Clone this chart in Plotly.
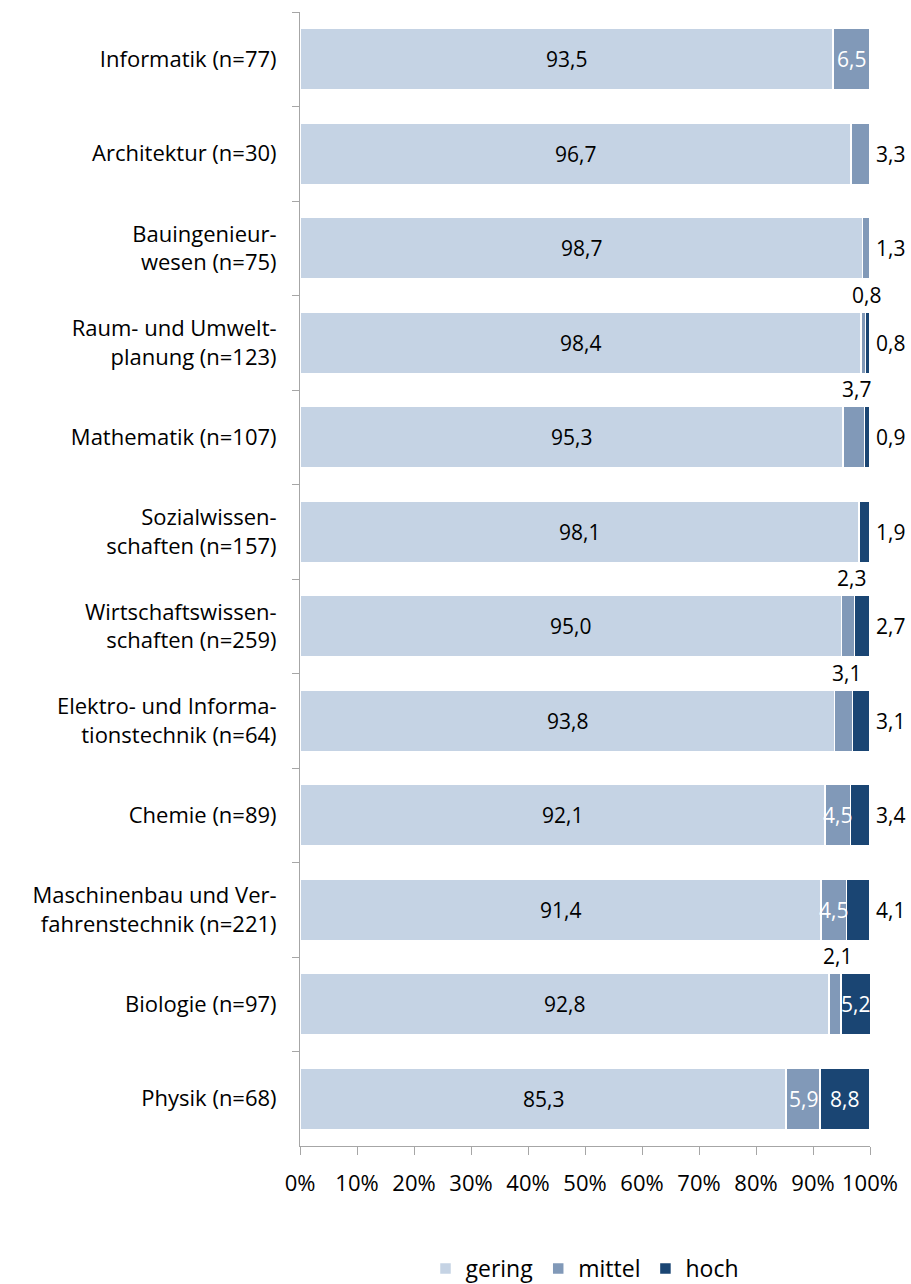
import plotly.graph_objects as go

categories = [
    "Informatik (n=77)",
    "Architektur (n=30)",
    "Bauingenieur-<br>wesen (n=75)",
    "Raum- und Umwelt-<br>planung (n=123)",
    "Mathematik (n=107)",
    "Sozialwissen-<br>schaften (n=157)",
    "Wirtschaftswissen-<br>schaften (n=259)",
    "Elektro- und Informa-<br>tionstechnik (n=64)",
    "Chemie (n=89)",
    "Maschinenbau und Ver-<br>fahrenstechnik (n=221)",
    "Biologie (n=97)",
    "Physik (n=68)",
]
gering = [93.5, 96.7, 98.7, 98.4, 95.3, 98.1, 95.0, 93.8, 92.1, 91.4, 92.8, 85.3]
mittel = [6.5, 3.3, 1.3, 0.8, 3.7, 0.0, 2.3, 3.1, 4.5, 4.5, 2.1, 5.9]
hoch = [0.0, 0.0, 0.0, 0.8, 0.9, 1.9, 2.7, 3.1, 3.4, 4.1, 5.2, 8.8]
# label placement per bar segment: in / out / above / none
mittel_pos = ["in", "out", "out", "above", "above", "none", "above", "above", "in", "in", "above", "in"]
hoch_pos = ["none", "none", "none", "out", "out", "out", "out", "out", "out", "out", "in", "in"]
x_ticks = [0, 10, 20, 30, 40, 50, 60, 70, 80, 90, 100]

colors = {"gering": "#c5d3e4", "mittel": "#8199b8", "hoch": "#1a4573"}
FONT = "Open Sans"

def fmt(v):
    return f"{v:.1f}".replace(".", ",")

fig = go.Figure()
for name, vals in [("gering", gering), ("mittel", mittel), ("hoch", hoch)]:
    fig.add_trace(go.Bar(
        name=name, y=categories, x=vals, orientation="h",
        marker=dict(color=colors[name], line=dict(color="white", width=1.5)),
        width=0.65, hoverinfo="skip",
    ))

ann = []
for i, c in enumerate(categories):
    g, m, h = gering[i], mittel[i], hoch[i]
    ann.append(dict(x=g / 2, y=c, text=fmt(g), showarrow=False,
                    font=dict(color="black", size=21, family=FONT)))
    mp = mittel_pos[i]
    if mp == "in":
        ann.append(dict(x=g + m / 2, y=c, text=fmt(m), showarrow=False,
                        font=dict(color="white", size=21, family=FONT)))
    elif mp == "out":
        ann.append(dict(x=100, y=c, text=fmt(m), showarrow=False, xanchor="left", xshift=4,
                        font=dict(color="black", size=21, family=FONT)))
    elif mp == "above":
        ann.append(dict(x=g + m / 2, y=c, text=fmt(m), showarrow=False, yshift=48, xshift=3,
                        font=dict(color="black", size=21, family=FONT)))
    hp = hoch_pos[i]
    if hp == "in":
        ann.append(dict(x=g + m + h / 2, y=c, text=fmt(h), showarrow=False,
                        font=dict(color="white", size=21, family=FONT)))
    elif hp == "out":
        ann.append(dict(x=100, y=c, text=fmt(h), showarrow=False, xanchor="left", xshift=4,
                        font=dict(color="black", size=21, family=FONT)))

fig.update_layout(
    barmode="stack",
    width=911, height=1284,
    margin=dict(l=300, r=41, t=12, b=138, autoexpand=False),
    plot_bgcolor="white", paper_bgcolor="white",
    font=dict(family=FONT, size=21, color="black"),
    annotations=ann,
    showlegend=True,
    legend=dict(orientation="h", x=0.5, xanchor="center", y=-0.108, yanchor="middle",
                font=dict(size=23, family=FONT), itemwidth=30, traceorder="normal"),
    xaxis=dict(range=[0, 100], tickvals=x_ticks, ticktext=[f"{t}%" for t in x_ticks],
               showgrid=False, zeroline=False, showline=True, linecolor="#a6a6a6", linewidth=1,
               ticks="outside", ticklen=8, tickcolor="#a6a6a6", ticklabelstandoff=10,
               tickfont=dict(size=22, family=FONT), fixedrange=True, automargin=False),
    yaxis=dict(autorange="reversed", showgrid=False, showline=True, linecolor="#a6a6a6",
               linewidth=1, ticks="outside", tickson="boundaries", ticklen=7, tickcolor="#a6a6a6",
               tickfont=dict(size=22, family=FONT), ticklabelstandoff=18, automargin=False),
)

fig.write_html("out.html", config={"displayModeBar": False},
               post_script="document.body.style.margin='0';document.body.style.overflow='hidden';")
